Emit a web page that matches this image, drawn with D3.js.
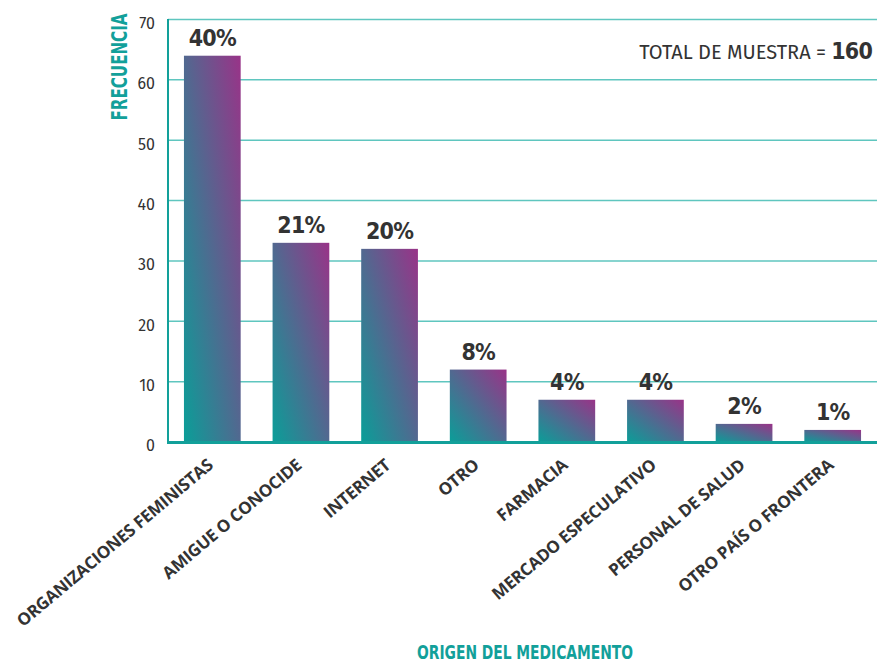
<!DOCTYPE html>
<html>
<head>
<meta charset="utf-8">
<script src="https://cdn.jsdelivr.net/npm/d3@7"></script>
<style>
  body { margin: 0; background: #fff; }
  svg { display: block; }
</style>
</head>
<body>
<svg></svg>
<script>

// data
var categories = ['ORGANIZACIONES FEMINISTAS', 'AMIGUE O CONOCIDE', 'INTERNET', 'OTRO',
                  'FARMACIA', 'MERCADO ESPECULATIVO', 'PERSONAL DE SALUD', 'OTRO PAÍS O FRONTERA']
var counts = [64, 33, 32, 12, 7, 7, 3, 2]
var pctLabels = ['40%', '21%', '20%', '8%', '4%', '4%', '2%', '1%']
var yTicks = [0, 10, 20, 30, 40, 50, 60, 70]
var total = 160

var width = 877,
    height = 662

var teal = '#12a09a',
    purple = '#993388',
    ink = '#333333',
    condensed = '"DejaVu Sans Condensed", "DejaVu Sans", sans-serif'

var svg = d3.select('svg')
            .attr('width', width)
            .attr('height', height)

// gradient per bar, bottom-left teal to top-right purple
var grad = svg.append('defs').append('linearGradient')
    .attr('id', 'barGrad')
    .attr('x1', 0).attr('y1', 1)
    .attr('x2', 1).attr('y2', 0)
grad.append('stop').attr('offset', '0%').attr('stop-color', '#0a9e98')
grad.append('stop').attr('offset', '100%').attr('stop-color', purple)

var x = d3.scaleBand()
    .domain(categories)
    .range([168, 877])
    .paddingInner(0.36)
    .paddingOuter(0.18)

var y = d3.scaleLinear()
    .domain([0, 70])
    .range([442, 19.5])

// grid lines
svg.append('g').selectAll('line')
  .data(yTicks.filter(function(d) { return d > 0 }))
  .enter().append('line')
    .attr('x1', 168).attr('x2', width)
    .attr('y1', function(d) { return y(d) })
    .attr('y2', function(d) { return y(d) })
    .attr('stroke', '#5fc6bf')
    .attr('stroke-width', 1.5)

// y tick labels
var yAxis = svg.append('g')
    .attr('transform', 'translate(168,0)')
    .call(d3.axisLeft(y).tickValues(yTicks).tickSize(0).tickPadding(13))
yAxis.select('.domain').remove()
yAxis.selectAll('text')
    .attr('dy', '0.55em')
    .style('font-family', '"Fira Sans", "Open Sans", sans-serif')
    .style('font-size', '16px')
    .style('fill', ink)

// bars
svg.append('g').selectAll('rect')
  .data(counts)
  .enter().append('rect')
    .attr('x', function(d, i) { return x(categories[i]) })
    .attr('y', function(d) { return y(d) })
    .attr('width', x.bandwidth())
    .attr('height', function(d) { return y(0) - y(d) })
    .attr('fill', 'url(#barGrad)')

// percentage labels
svg.append('g').selectAll('text')
  .data(counts)
  .enter().append('text')
    .attr('x', function(d, i) { return x(categories[i]) + x.bandwidth() / 2 })
    .attr('y', function(d) { return y(d) - 10 })
    .attr('text-anchor', 'middle')
    .style('font-family', condensed)
    .style('font-weight', 'bold')
    .style('font-size', '23px')
    .style('letter-spacing', '-0.8px')
    .style('fill', ink)
    .text(function(d, i) { return pctLabels[i] })

// axes lines
svg.append('line')
    .attr('x1', 168).attr('x2', 168)
    .attr('y1', 19).attr('y2', 443)
    .attr('stroke', teal).attr('stroke-width', 2)
svg.append('line')
    .attr('x1', 167).attr('x2', width)
    .attr('y1', 442.5).attr('y2', 442.5)
    .attr('stroke', teal).attr('stroke-width', 3)

// category labels, rotated
svg.append('g').selectAll('text')
  .data(categories)
  .enter().append('text')
    .attr('transform', function(d) {
      return 'translate(' + (x(d) + x.bandwidth() / 2 + 2) + ',467) rotate(-40)'
    })
    .attr('text-anchor', 'end')
    .style('font-family', '"Open Sans", sans-serif')
    .style('font-weight', 'bold')
    .style('font-size', '17px')
    .style('letter-spacing', '-0.3px')
    .style('fill', ink)
    .text(function(d) { return d })

// axis titles
svg.append('text')
    .attr('transform', 'translate(127,67) rotate(-90) scale(0.8,1)')
    .attr('text-anchor', 'middle')
    .style('font-family', condensed)
    .style('font-weight', 'bold')
    .style('font-size', '21px')
    .style('fill', teal)
    .text('FRECUENCIA')

svg.append('text')
    .attr('transform', 'translate(525,659) scale(0.81,1)')
    .attr('text-anchor', 'middle')
    .style('font-family', condensed)
    .style('font-weight', 'bold')
    .style('font-size', '19px')
    .style('fill', teal)
    .text('ORIGEN DEL MEDICAMENTO')

// sample size note
var note = svg.append('text')
    .attr('x', 872).attr('y', 59)
    .attr('text-anchor', 'end')
    .style('font-family', '"Fira Sans", "Open Sans", sans-serif')
    .style('font-size', '20px')
    .style('fill', ink)
note.append('tspan').text('TOTAL DE MUESTRA = ')
note.append('tspan')
    .style('font-family', condensed)
    .style('font-weight', 'bold')
    .style('font-size', '23px')
    .style('letter-spacing', '-0.8px')
    .text(total)

</script>
</body>
</html>
